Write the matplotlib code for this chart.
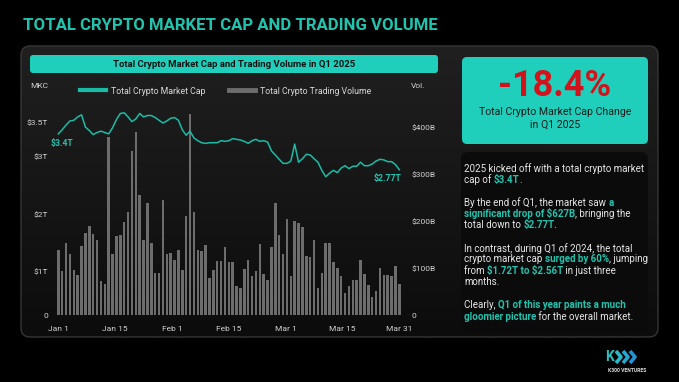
import numpy as np
import matplotlib
matplotlib.use("Agg")
import matplotlib.pyplot as plt
from matplotlib.patches import FancyBboxPatch
from matplotlib.lines import Line2D
from matplotlib.colors import LinearSegmentedColormap

# daily values, Q1 2025
market_cap = [3.34, 3.40, 3.47, 3.53, 3.54, 3.59, 3.62, 3.44, 3.39, 3.33,
              3.36, 3.38, 3.36, 3.34, 3.43, 3.55, 3.64, 3.65, 3.59, 3.52,
              3.56, 3.64, 3.59, 3.61, 3.61, 3.58, 3.54, 3.50, 3.53, 3.57,
              3.58, 3.54, 3.40, 3.32, 3.38, 3.28, 3.24, 3.21, 3.20, 3.21,
              3.21, 3.21, 3.24, 3.23, 3.24, 3.27, 3.26, 3.25, 3.23, 3.20,
              3.24, 3.26, 3.23, 3.24, 3.22, 3.09, 3.03, 2.96, 2.89, 2.89,
              2.93, 3.19, 2.91, 2.97, 3.04, 3.03, 2.97, 2.91, 2.77, 2.66,
              2.72, 2.77, 2.73, 2.81, 2.85, 2.80, 2.84, 2.84, 2.91, 2.85,
              2.85, 2.88, 2.93, 2.96, 2.95, 2.92, 2.92, 2.87, 2.78]
volume = [138, 95, 153, 130, 96, 85, 147, 176, 191, 173,
          160, 73, 66, 381, 131, 170, 172, 199, 220, 350,
          391, 257, 160, 240, 155, 90, 89, 247, 131, 132,
          118, 138, 97, 211, 430, 221, 139, 136, 150, 79,
          96, 115, 115, 145, 113, 113, 61, 57, 99, 117,
          84, 94, 151, 87, 74, 146, 240, 172, 131, 206,
          84, 201, 197, 189, 126, 123, 160, 58, 89, 155,
          155, 113, 100, 84, 47, 62, 75, 75, 117, 87,
          65, 38, 51, 101, 86, 85, 84, 104, 67]
date_labels = ["Jan 1", "Jan 15", "Feb 1", "Feb 15", "Mar 1", "Mar 15", "Mar 31"]
mkc_ticks = [0, 1, 2, 3, 3.5]
mkc_tick_labels = ["0", "$1T", "$2T", "$3T", "$3.5T"]
vol_ticks = [0, 100, 200, 300, 400]
vol_tick_labels = ["0", "$100B", "$200B", "$300B", "$400B"]

TEAL = "#1fcfbb"
TEAL_TXT = "#22c3ae"
LINE = "#1bbca5"
BAR = "#6d6d6d"
LIGHT = "#d2d2d2"

plt.rcParams["font.family"] = ["Roboto", "DejaVu Sans"]
plt.rcParams["text.parse_math"] = False

W, H = 679, 382
fig = plt.figure(figsize=(W / 100, H / 100), dpi=100, facecolor="black")

# background layer in pixel coords
bg = fig.add_axes([0, 0, 1, 1])
bg.set_xlim(0, W)
bg.set_ylim(H, 0)
bg.axis("off")

panel = FancyBboxPatch((21, 46), 637, 291, boxstyle="round,pad=0,rounding_size=9",
                       fc="none", ec="#363636", lw=1.0, zorder=3)
bg.add_patch(panel)
cmap = LinearSegmentedColormap.from_list("p", ["#202020", "#0c0c0c"])
grad = np.linspace(0, 1, 256).reshape(-1, 1)
im = bg.imshow(grad, extent=(21, 658, 337, 46), cmap=cmap, aspect="auto",
               origin="upper", zorder=1)
im.set_clip_path(panel)
bg.set_xlim(0, W)
bg.set_ylim(H, 0)

bg.add_patch(FancyBboxPatch((30, 55), 408, 18, boxstyle="round,pad=0,rounding_size=3",
                            fc=TEAL, ec="none", zorder=4))
bg.add_patch(FancyBboxPatch((462, 57), 186, 87, boxstyle="round,pad=0,rounding_size=5",
                            fc=TEAL, ec="none", zorder=4))
bg.add_patch(FancyBboxPatch((461, 152), 187, 181, boxstyle="round,pad=0,rounding_size=7",
                            fc="#0b0b0b", ec="none", zorder=4))

fig.text(23 / W, 1 - 25 / H, "TOTAL CRYPTO MARKET CAP AND TRADING VOLUME",
         weight="bold", fontsize=12.1, color=TEAL_TXT, ha="left", va="center")
fig.text(234 / W, 1 - 64.5 / H, "Total Crypto Market Cap and Trading Volume in Q1 2025",
         weight="bold", fontsize=6.8, color="#111111", ha="center", va="center")
fig.text(555 / W, 1 - 86 / H, "-18.4%", weight="bold", fontsize=26,
         color="#d3121c", ha="center", va="center")
fig.text(555 / W, 1 - 112.3 / H, "Total Crypto Market Cap Change", fontsize=7.6,
         color="#1a1a1a", ha="center", va="center")
fig.text(555 / W, 1 - 125 / H, "in Q1 2025", fontsize=7.6,
         color="#1a1a1a", ha="center", va="center")

# chart
n = len(volume)
x = np.arange(n)
ax_bar = fig.add_axes([55 / W, (H - 315) / H, (403 - 55) / W, (315 - 95) / H])
ax_bar.patch.set_alpha(0)
ax_bar.bar(x, volume, width=0.64, color=BAR, zorder=2)
ax_bar.set_xlim(-0.85, 88.95)
ax_bar.set_ylim(0, 470.6)

# left axis labels in the reference are not evenly spaced
knot_v = [-1, 0, 1, 2, 3, 3.5, 5]
knot_p = [-43, 0, 43, 100, 158, 192, 294]


def fwd(v):
    return np.interp(v, knot_v, knot_p)


def inv(p):
    return np.interp(p, knot_p, knot_v)


ax_line = ax_bar.twinx()
ax_line.set_yscale("function", functions=(fwd, inv))
ax_line.plot(x, market_cap, color=LINE, lw=1.1, zorder=3)
ax_line.set_ylim(0, inv(220))
ax_line.yaxis.tick_left()
ax_line.set_yticks(mkc_ticks, mkc_tick_labels)
ax_line.yaxis.set_minor_locator(matplotlib.ticker.NullLocator())
ax_line.tick_params(axis="y", length=0, labelsize=6, labelcolor=LIGHT, pad=5)
for s in ax_line.spines.values():
    s.set_visible(False)

# twinx moves the host ticks to the left, so put them back on the right here
ax_bar.yaxis.tick_right()
ax_bar.set_yticks(vol_ticks, vol_tick_labels)
ax_bar.set_xticks(np.linspace(0, n - 1, len(date_labels)), date_labels)
ax_bar.tick_params(axis="y", length=0, labelsize=6, labelcolor=LIGHT, pad=6)
ax_bar.tick_params(axis="x", length=0, labelsize=6, labelcolor=LIGHT, pad=8)
for s in ax_bar.spines.values():
    s.set_visible(False)

ax_line.annotate("$3.4T", xy=(0, market_cap[0]), xytext=(2.5, -7), textcoords="offset points",
                 ha="center", va="center", fontsize=6.2, weight="bold", color=TEAL_TXT)
ax_line.annotate("$2.77T", xy=(n - 1, market_cap[-1]), xytext=(1.2, -6.5),
                 textcoords="offset points", ha="right", va="center", fontsize=6.2,
                 weight="bold", color=TEAL_TXT)

fig.text(48 / W, 1 - 86 / H, "MKC", fontsize=6, color=LIGHT, ha="right", va="center")
fig.text(411 / W, 1 - 86 / H, "Vol.", fontsize=6, color=LIGHT, ha="left", va="center")

handles = [Line2D([], [], color=LINE, lw=3), Line2D([], [], color=BAR, lw=3.5)]
fig.legend(handles, ["Total Crypto Market Cap", "Total Crypto Trading Volume"],
           loc="center", bbox_to_anchor=(225.5 / W, 1 - 91 / H), ncol=2, frameon=False,
           fontsize=6.3, handlelength=3.0, handletextpad=0.6, columnspacing=2.6,
           labelcolor="#d8d8d8")

# commentary with highlighted phrases
body = [
    [("2025 kicked off with a total crypto market", 0)],
    [("cap of ", 0), ("$3.4T", 1), (".", 0)],
    [],
    [("By the end of Q1, the market saw ", 0), ("a", 1)],
    [("significant drop of $627B", 1), (", bringing the", 0)],
    [("total down to ", 0), ("$2.77T.", 1)],
    [],
    [("In contrast, during Q1 of 2024, the total", 0)],
    [("crypto market cap ", 0), ("surged by 60%", 1), (", jumping", 0)],
    [("from ", 0), ("$1.72T to $2.56T", 1), (" in just three", 0)],
    [("months.", 0)],
    [],
    [("Clearly, ", 0), ("Q1 of this year paints a much", 1)],
    [("gloomier picture", 1), (" for the overall market.", 0)],
]
r = fig.canvas.get_renderer()
for i, parts in enumerate(body):
    y = 168.3 + i * 11.4
    xp = 464
    for txt, hl in parts:
        t = fig.text(xp / W, 1 - y / H, txt, fontsize=7.0, ha="left", va="center",
                     color=TEAL_TXT if hl else "#e6e6e6", weight="bold" if hl else "normal")
        xp += t.get_window_extent(renderer=r).width

# logo
for k in range(3):
    x0 = 616 + k * 7
    bg.plot([x0, x0 + 5, x0], [351, 357, 363], color=["#2bb8c8", "#27a6cf", "#2294d6"][k],
            lw=2.6, solid_capstyle="butt", zorder=5)
fig.text(610 / W, 1 - 357 / H, "K", weight="bold", fontsize=10, color="#2bc0bf",
         ha="center", va="center")
fig.text(627 / W, 1 - 370 / H, "K300 VENTURES", fontsize=3.6, color="#dddddd",
         ha="center", va="center", weight="bold")

fig.savefig("out.png", dpi=100, facecolor="black")
